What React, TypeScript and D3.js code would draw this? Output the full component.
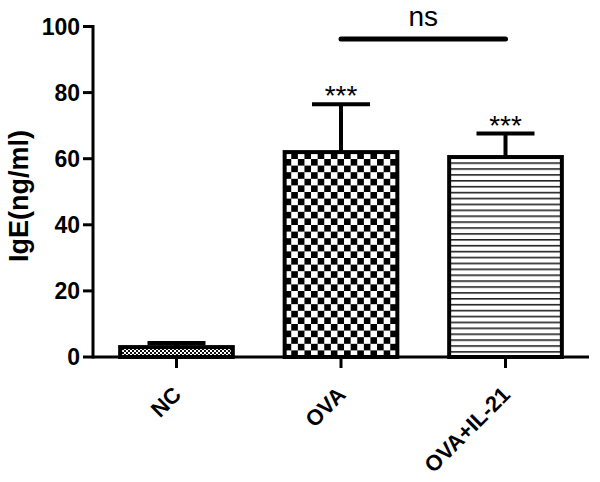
import React from "react";
import * as d3 from "d3";

const categories = ["NC", "OVA", "OVA+IL-21"];
const means = [3.0, 62.0, 60.5];
const sems = [1.2, 14.5, 7.1];
const stars = ["", "***", "***"];
const yTicks = [0, 20, 40, 60, 80, 100];
const patterns = ["pNC", "pOVA", "pIL"];
const yTitle = "IgE(ng/ml)";
const compLabel = "ns";

const W = 600;
const H = 482;
const FONT = "'Liberation Sans', Arial, Helvetica, sans-serif";

export default function App() {
  const y = d3.scaleLinear().domain([0, 100]).range([357, 26.5]);
  const x = d3
    .scaleBand<string>()
    .domain(categories)
    .range([93, 589])
    .paddingInner(0.315)
    .paddingOuter(0.165);
  const bw = x.bandwidth();
  const cx = (c: string) => (x(c) as number) + bw / 2;
  const capW = 58;
  const x0 = 93;
  const y0 = y(0);

  return (
    <svg
      width={W}
      height={H}
      style={{ position: "absolute", left: 0, top: 0, background: "#fff" }}
      fontFamily={FONT}
    >
      <defs>
        <pattern id="pNC" patternUnits="userSpaceOnUse" width={4} height={4} x={0} y={0}>
          <rect width={4} height={4} fill="#111" />
          <rect x={0} y={0} width={2} height={2} fill="#fff" />
          <rect x={2} y={2} width={2} height={2} fill="#fff" />
        </pattern>
        <pattern id="pOVA" patternUnits="userSpaceOnUse" width={13.2} height={13.2} x={x("OVA") as number} y={y0}>
          <rect width={13.2} height={13.2} fill="#fff" />
          <rect x={0} y={0} width={6.6} height={6.6} fill="#000" />
          <rect x={6.6} y={6.6} width={6.6} height={6.6} fill="#000" />
        </pattern>
        <pattern id="pIL" patternUnits="userSpaceOnUse" width={10} height={5.9} x={0} y={y0}>
          <rect width={10} height={5.9} fill="#fff" />
          <rect x={0} y={0} width={10} height={1.6} fill="#222" />
        </pattern>
      </defs>
      <rect width={W} height={H} fill="#fff" />

      {/* bars */}
      {categories.map((c, i) => (
        <rect
          key={c}
          x={x(c) as number}
          y={y(means[i])}
          width={bw}
          height={y0 - y(means[i])}
          fill={`url(#${patterns[i]})`}
          stroke="#000"
          strokeWidth={4}
        />
      ))}

      {/* error bars */}
      {categories.map((c, i) => {
        const top = y(means[i] + sems[i]);
        return (
          <g key={c} stroke="#000" strokeWidth={4}>
            <line x1={cx(c)} x2={cx(c)} y1={y(means[i])} y2={top} />
            <line x1={cx(c) - capW / 2} x2={cx(c) + capW / 2} y1={top} y2={top} />
          </g>
        );
      })}

      {/* stars */}
      {categories.map((c, i) =>
        stars[i] ? (
          <text
            key={c}
            x={cx(c)}
            y={y(means[i] + sems[i]) + 1}
            textAnchor="middle"
            fontSize={28}
            fill="#000"
          >
            {stars[i]}
          </text>
        ) : null
      )}

      {/* ns comparison */}
      <line
        x1={cx("OVA")}
        x2={cx("OVA+IL-21")}
        y1={39}
        y2={39}
        stroke="#000"
        strokeWidth={5}
        strokeLinecap="round"
      />
      <text
        x={(cx("OVA") + cx("OVA+IL-21")) / 2}
        y={26}
        textAnchor="middle"
        fontSize={28}
        fill="#000"
      >
        {compLabel}
      </text>

      {/* y axis */}
      <line x1={x0} x2={x0} y1={y(100) - 1.5} y2={y0 + 1.5} stroke="#000" strokeWidth={3} />
      {yTicks.map((t) => (
        <g key={t}>
          <line x1={x0 - 10} x2={x0} y1={y(t)} y2={y(t)} stroke="#000" strokeWidth={3} />
          <text
            x={x0 - 13}
            y={y(t)}
            dy="0.36em"
            textAnchor="end"
            fontSize={23}
            fontWeight="bold"
            fill="#000"
          >
            {t}
          </text>
        </g>
      ))}
      <text
        transform={`translate(28,196) rotate(-90)`}
        textAnchor="middle"
        fontSize={27}
        fontWeight="bold"
        fill="#000"
      >
        {yTitle}
      </text>

      {/* x axis */}
      <line x1={x0} x2={589} y1={y0} y2={y0} stroke="#000" strokeWidth={3} />
      {categories.map((c) => (
        <g key={c}>
          <line x1={cx(c)} x2={cx(c)} y1={y0} y2={y0 + 11} stroke="#000" strokeWidth={3} />
          <text
            transform={`translate(${cx(c) + 6},396) rotate(-45)`}
            textAnchor="end"
            fontSize={22}
            fontWeight="bold"
            fill="#000"
          >
            {c}
          </text>
        </g>
      ))}
    </svg>
  );
}
